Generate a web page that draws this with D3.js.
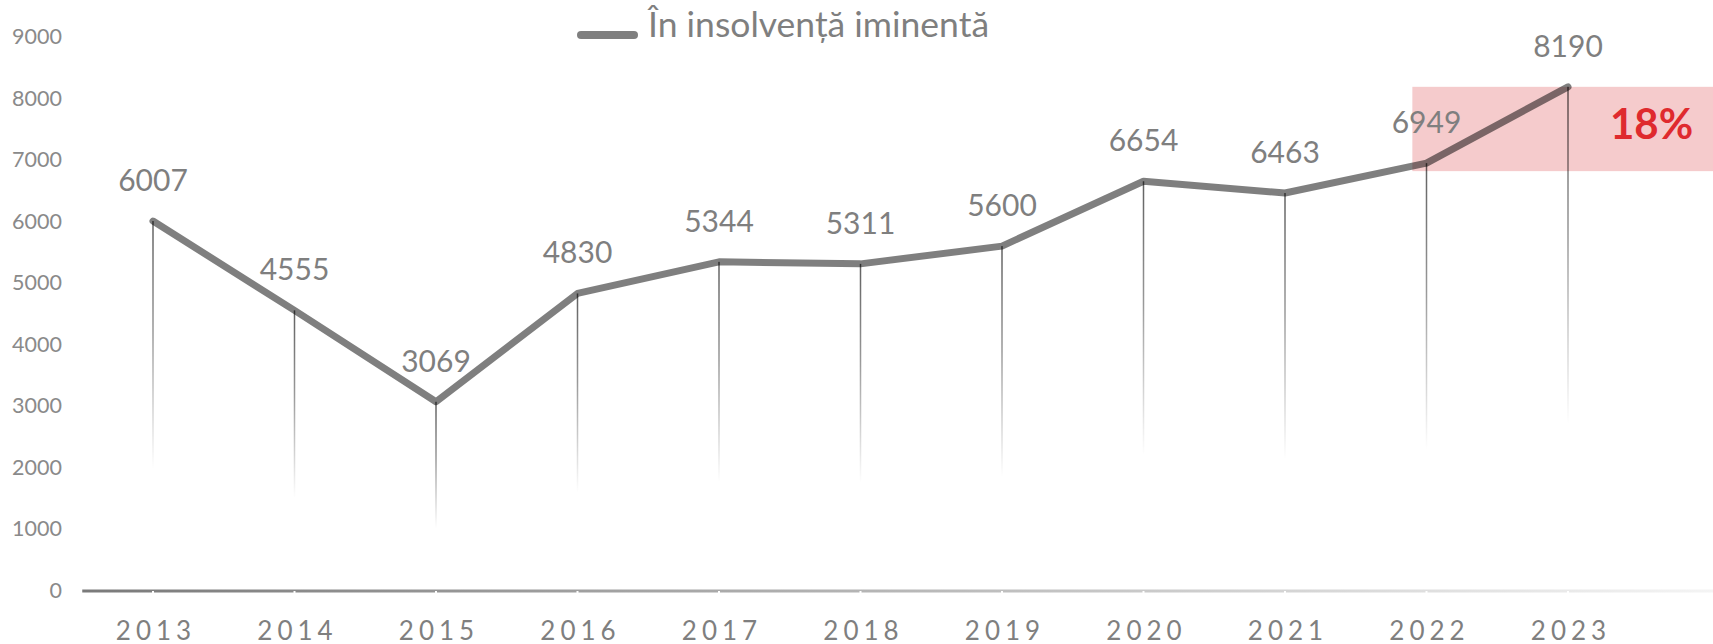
<!DOCTYPE html>
<html><head><meta charset="utf-8">
<script src="https://cdn.jsdelivr.net/npm/d3@7"></script>
<style>
html,body{margin:0;padding:0;background:#fff;}
svg{display:block;font-family:Lato, "Noto Sans", sans-serif;}
</style></head>
<body><svg id="c" width="1713" height="644"></svg>
<script>
const years = ["2013","2014","2015","2016","2017","2018","2019","2020","2021","2022","2023"];
const values = [6007,4555,3069,4830,5344,5311,5600,6654,6463,6949,8190];
const yTicks = [0,1000,2000,3000,4000,5000,6000,7000,8000,9000];
const seriesName = "În insolvență iminentă";
const highlightYears = ["2022","2023"];
const highlightText = "18%";

const W = 1713, H = 644;
const svg = d3.select("#c");
const x = d3.scalePoint().domain(years).range([153, 1568]);
const y = d3.scaleLinear().domain([0, 9000]).range([590.5, 37]);
const step = x.step();

const defs = svg.append("defs");
const dg = defs.append("linearGradient").attr("id","drop").attr("x1",0).attr("y1",0).attr("x2",0).attr("y2",1);
dg.append("stop").attr("offset","0").attr("stop-color","#000").attr("stop-opacity",0.62);
dg.append("stop").attr("offset","0.3").attr("stop-color","#000").attr("stop-opacity",0.4);
dg.append("stop").attr("offset","0.67").attr("stop-color","#000").attr("stop-opacity",0);
dg.append("stop").attr("offset","1").attr("stop-color","#000").attr("stop-opacity",0);
const ag = defs.append("linearGradient").attr("id","axisg").attr("gradientUnits","userSpaceOnUse")
  .attr("x1", x(years[0]) - step/2).attr("x2", W).attr("y1",0).attr("y2",0);
ag.append("stop").attr("offset","0").attr("stop-color","#7a7a7a");
ag.append("stop").attr("offset","0.55").attr("stop-color","#bdbdbd");
ag.append("stop").attr("offset","1").attr("stop-color","#f4f4f4");

// highlight box
const hx0 = x(highlightYears[0]) - step*0.1;
svg.append("rect")
  .attr("x", hx0).attr("y", y(d3.max(values)))
  .attr("width", W - hx0).attr("height", y(values[years.indexOf(highlightYears[0])]) - y(d3.max(values)) + 8)
  .attr("fill", "#f5cbcc");

// y axis
const ya = svg.append("g").attr("transform","translate(70,0)")
  .call(d3.axisLeft(y).tickValues(yTicks).tickSize(0).tickPadding(8).tickFormat(d3.format("d")));
ya.select(".domain").remove();
ya.selectAll("text").attr("font-size",21.5).attr("fill","#8a8a8a").attr("font-family","Lato, sans-serif");

// x axis line
svg.append("line").attr("x1", x(years[0]) - step/2).attr("x2", W)
  .attr("y1", y(0)+0.5).attr("y2", y(0)+0.5).attr("stroke","url(#axisg)").attr("stroke-width",3);
svg.selectAll("line.notch").data(years).join("line").attr("class","notch")
  .attr("x1", d=>x(d)).attr("x2", d=>x(d)).attr("y1", y(0)+0.5).attr("y2", y(0)+2.5)
  .attr("stroke","#fff").attr("stroke-width",2);

const xa = svg.append("g").attr("transform",`translate(0,${y(0)})`)
  .call(d3.axisBottom(x).tickSize(0));
xa.select(".domain").remove();
xa.selectAll("text").attr("y", 49).attr("dy", 0).attr("dx", 2.5)
  .attr("font-size", 26).attr("letter-spacing", 5).attr("fill","#7f7f7f").attr("font-family","Lato, sans-serif");

// drop lines
svg.selectAll("rect.drop").data(values).join("rect").attr("class","drop")
  .attr("x", (d,i)=>x(years[i]) - 0.75).attr("width", 1.5)
  .attr("y", d=>y(d)).attr("height", d=>y(0)-y(d))
  .attr("fill","url(#drop)");

// main line
svg.append("path").datum(values)
  .attr("d", d3.line().x((d,i)=>x(years[i])).y(d=>y(d)))
  .attr("fill","none").attr("stroke","rgba(0,0,0,0.5)").attr("stroke-width",7)
  .attr("stroke-linejoin","round").attr("stroke-linecap","round");

// data labels
svg.selectAll("text.lbl").data(values).join("text").attr("class","lbl")
  .attr("x", (d,i)=>x(years[i])).attr("y", d=>y(d)-30)
  .attr("text-anchor","middle").attr("font-size",30).attr("fill","#7f7f7f")
  .text(d=>d);

// highlight text
svg.append("text").attr("x", (x(highlightYears[1]) + W)/2 + 11).attr("y", 139)
  .attr("text-anchor","middle").attr("font-size",42).attr("font-weight","bold")
  .attr("fill","#df2a2e").text(highlightText);

// legend
svg.append("line").attr("x1",581).attr("x2",634).attr("y1",35).attr("y2",35)
  .attr("stroke","#7f7f7f").attr("stroke-width",8).attr("stroke-linecap","round");
svg.append("text").attr("x",648).attr("y",37).attr("font-size",35.5).attr("fill","#7f7f7f")
  .text(seriesName);
</script></body></html>
